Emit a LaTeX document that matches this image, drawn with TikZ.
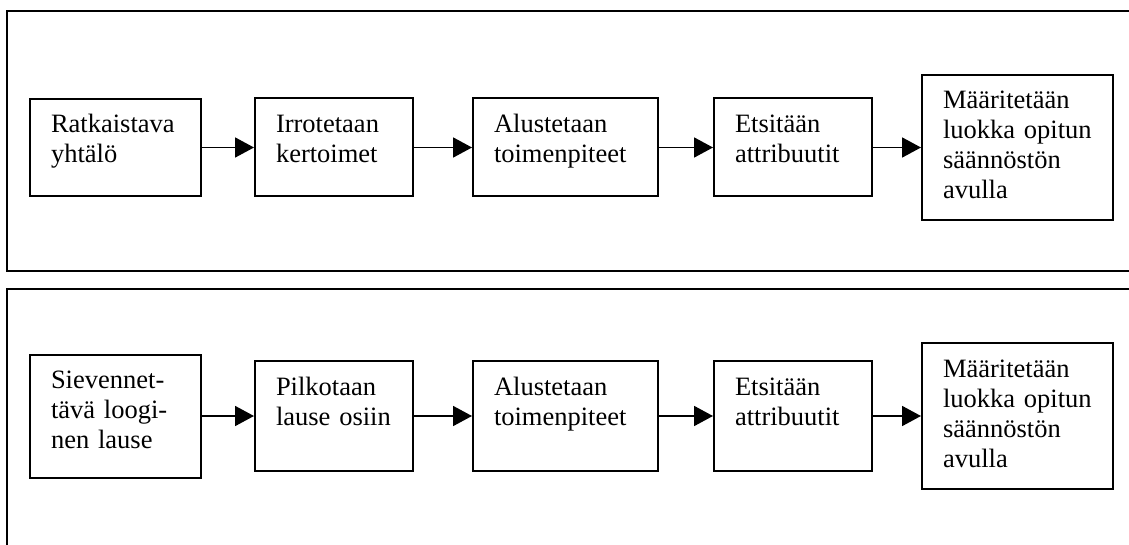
\documentclass[tikz,border=0pt]{standalone}
\usepackage{fontspec}
\setmainfont{Liberation Serif}
\usetikzlibrary{arrows.meta}

\begin{document}
\begin{tikzpicture}[x=1pt, y=-1pt, line width=2pt,
    stage/.style={draw, rectangle, inner sep=0pt, anchor=west},
    stagetext/.style={anchor=base west, inner sep=0pt, text width=165pt, align=left,
      font=\fontsize{26.5}{30}\selectfont},
    flow/.style={-{Triangle[length=19pt, width=20pt]}, line width=1.8pt}]
  \useasboundingbox (0,0) rectangle (1129,545);
  \clip (0,0) rectangle (1129,545);
  % frames
  \draw (7,11) rectangle (1140,271);
  \draw (7,289) rectangle (1140,560);
  % upper chain
  \node[stage, minimum width=171pt, minimum height=97pt]  (t1) at (29,147.5) {};
  \node[stage, minimum width=158pt, minimum height=98pt]  (t2) at (254,147.5) {};
  \node[stage, minimum width=185pt, minimum height=98pt]  (t3) at (472,147.5) {};
  \node[stage, minimum width=158pt, minimum height=98pt]  (t4) at (713,147.5) {};
  \node[stage, minimum width=191pt, minimum height=145pt] (t5) at (921,147.5) {};
  \node[stagetext] at ([shift={(21,35)}]t1.north west) {Ratkaistava\\yhtälö};
  \node[stagetext] at ([shift={(21,35)}]t2.north west) {Irrotetaan\\kertoimet};
  \node[stagetext] at ([shift={(21,35)}]t3.north west) {Alustetaan\\toimenpiteet};
  \node[stagetext] at ([shift={(21,35)}]t4.north west) {Etsitään\\attribuutit};
  \node[stagetext] at ([shift={(21,35)}]t5.north west) {Määritetään\\luokka opitun\\säännöstön\\avulla};
  \foreach \a/\b in {t1/t2, t2/t3, t3/t4, t4/t5}
    \draw[flow] (\a) -- (\b);
  % lower chain
  \node[stage, minimum width=171pt, minimum height=123pt] (b1) at (29,416) {};
  \node[stage, minimum width=158pt, minimum height=110pt] (b2) at (254,416) {};
  \node[stage, minimum width=185pt, minimum height=110pt] (b3) at (472,416) {};
  \node[stage, minimum width=158pt, minimum height=110pt] (b4) at (713,416) {};
  \node[stage, minimum width=191pt, minimum height=146pt] (b5) at (921,416) {};
  \node[stagetext] at ([shift={(21,35)}]b1.north west) {Sievennet-\\tävä loogi-\\nen lause};
  \node[stagetext] at ([shift={(21,35)}]b2.north west) {Pilkotaan\\lause osiin};
  \node[stagetext] at ([shift={(21,35)}]b3.north west) {Alustetaan\\toimenpiteet};
  \node[stagetext] at ([shift={(21,35)}]b4.north west) {Etsitään\\attribuutit};
  \node[stagetext] at ([shift={(21,35)}]b5.north west) {Määritetään\\luokka opitun\\säännöstön\\avulla};
  \foreach \a/\b in {b1/b2, b2/b3, b3/b4, b4/b5}
    \draw[flow] (\a) -- (\b);
\end{tikzpicture}
\end{document}
